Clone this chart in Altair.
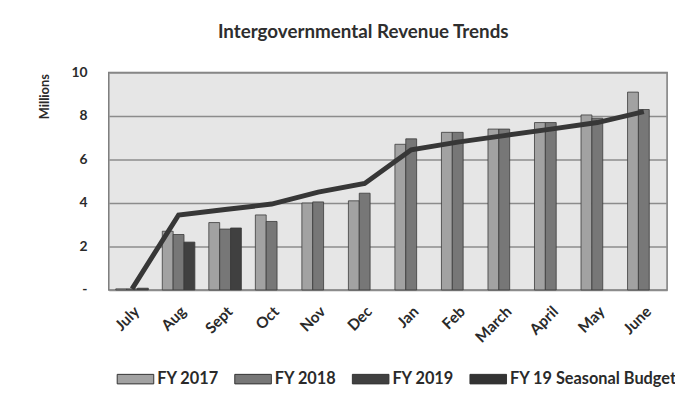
import altair as alt
import pandas as pd

months = ["July", "Aug", "Sept", "Oct", "Nov", "Dec", "Jan", "Feb", "March", "April", "May", "June"]
fy2017 = [0.05, 2.7, 3.1, 3.45, 4.0, 4.1, 6.7, 7.25, 7.4, 7.7, 8.05, 9.1]
fy2018 = [0.05, 2.55, 2.8, 3.15, 4.05, 4.45, 6.95, 7.25, 7.4, 7.7, 7.9, 8.3]
fy2019 = [0.08, 2.2, 2.85, None, None, None, None, None, None, None, None, None]
budget = [0.05, 3.45, 3.7, 3.95, 4.5, 4.9, 6.45, 6.8, 7.1, 7.4, 7.7, 8.2]

series_names = ["FY 2017", "FY 2018", "FY 2019", "FY 19 Seasonal Budget"]
series_colors = ["#a2a2a2", "#777777", "#404040", "#333333"]
y_ticks = [0, 2, 4, 6, 8, 10]

rows = []
for name, vals in zip(series_names[:3], [fy2017, fy2018, fy2019]):
    for m, v in zip(months, vals):
        if v is not None:
            rows.append({"month": m, "series": name, "value": v})
bar_df = pd.DataFrame(rows)
line_df = pd.DataFrame({"month": months, "value": budget})

FONT = "Lato"

bars = alt.Chart(bar_df).mark_bar(stroke="#3a3a3a", strokeWidth=0.8).encode(
    x=alt.X(
        "month:N",
        sort=months,
        scale=alt.Scale(domain=months, paddingInner=0.3, paddingOuter=0.15),
        axis=alt.Axis(
            title=None, labelAngle=-45, ticks=False, domain=False, grid=False,
            labelFont=FONT, labelFontSize=15.5, labelFontWeight="bold",
            labelColor="#2a2a2a", labelPadding=14,
        ),
    ),
    xOffset=alt.XOffset(
        "series:N", sort=series_names[:3],
        scale=alt.Scale(domain=series_names[:3], paddingInner=0, paddingOuter=0),
    ),
    y=alt.Y(
        "value:Q",
        scale=alt.Scale(domain=[0, 10]),
        axis=alt.Axis(
            title="Millions", values=y_ticks,
            labelExpr="datum.value == 0 ? '-' : datum.label",
            ticks=False, domain=False, grid=True, gridColor="#8c8c8c", gridWidth=1.5,
            labelFont=FONT, labelFontSize=14, labelFontWeight="bold", labelColor="#2a2a2a",
            labelPadding=22,
            titleFont=FONT, titleFontSize=13, titleFontWeight="bold", titleColor="#2a2a2a",
            titleAngle=270, titleX=-65, titleY=24, titleAlign="center", titleBaseline="middle",
        ),
    ),
    color=alt.Color(
        "series:N",
        scale=alt.Scale(domain=series_names, range=series_colors),
        legend=alt.Legend(
            title=None, orient="none", direction="horizontal",
            legendX=8, legendY=291,
            symbolType="M-1,-0.26L1,-0.26L1,0.26L-1,0.26Z", symbolSize=1369,
            symbolStrokeColor="#333333", symbolStrokeWidth=1,
            labelFont=FONT, labelFontSize=16.5, labelFontWeight="bold", labelColor="#2a2a2a",
            labelOffset=3, columnPadding=13, labelLimit=300,
        ),
    ),
)

line = alt.Chart(line_df).mark_line(color="#373737", strokeWidth=5).encode(
    x=alt.X("month:N", sort=months),
    y=alt.Y("value:Q"),
)

chart = alt.layer(bars, line).properties(
    width=565,
    height=220,
    autosize=alt.AutoSizeParams(type="none"),
    padding={"left": 102, "top": 63, "right": 8, "bottom": 105},
    title=alt.Title(
        "Intergovernmental Revenue Trends", font=FONT, fontSize=19, fontWeight="bold",
        color="#2e2e2e", anchor="middle", dx=-25, offset=24,
    ),
).configure_view(fill="#e6e6e6", stroke="#7a7a7a", strokeWidth=1.5)

chart.save("out.html", embed_options={"renderer": "svg", "actions": False})
